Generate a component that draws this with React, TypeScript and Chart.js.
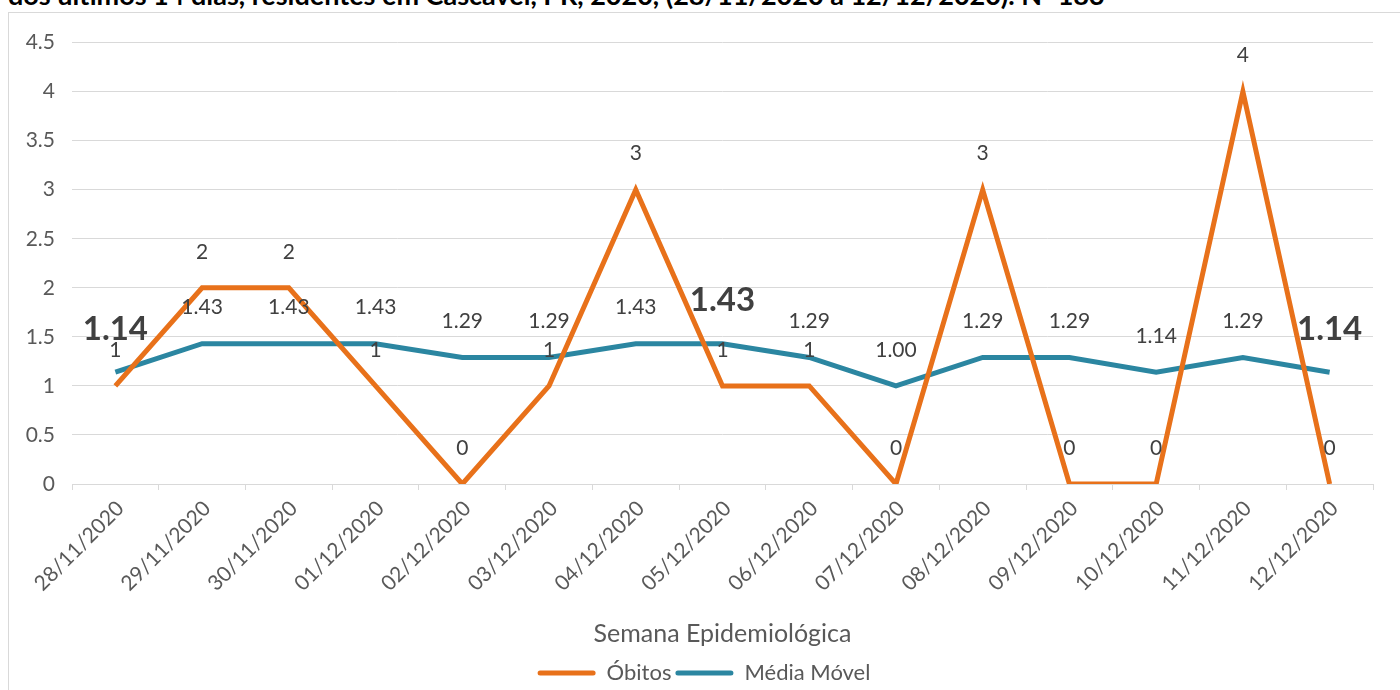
import React, { useEffect, useRef } from 'react';
import { Chart, registerables } from 'chart.js';

Chart.register(...registerables);

const FONT = 'Lato, "Open Sans", sans-serif';

const titulo =
  'dos últimos 14 dias, residentes em Cascavel, PR, 2020, (28/11/2020 a 12/12/2020). N=183';

const categorias = [
  '28/11/2020', '29/11/2020', '30/11/2020', '01/12/2020', '02/12/2020',
  '03/12/2020', '04/12/2020', '05/12/2020', '06/12/2020', '07/12/2020',
  '08/12/2020', '09/12/2020', '10/12/2020', '11/12/2020', '12/12/2020',
];

const obitos = [1, 2, 2, 1, 0, 1, 3, 1, 1, 0, 3, 0, 0, 4, 0];

const mediaMovel = [1.14, 1.43, 1.43, 1.43, 1.29, 1.29, 1.43, 1.43, 1.29, 1.0, 1.29, 1.29, 1.14, 1.29, 1.14];

// indices of the moving-average labels shown large and bold
const destaqueMedia = [0, 7, 14];

const yMin = 0;
const yMax = 4.5;
const yStep = 0.5;

const ORANGE = '#E8711A';
const TEAL = '#2B86A1';
const GRID = '#d9d9d9';
const TEXT = '#595959';
const LABEL = '#404040';

const dataLabelPlugin = {
  id: 'dataLabels',
  afterDatasetsDraw(chart: any) {
    const ctx = chart.ctx;
    chart.data.datasets.forEach((ds: any, di: number) => {
      const meta = chart.getDatasetMeta(di);
      meta.data.forEach((el: any, i: number) => {
        const v = ds.data[i] as number;
        const isMedia = di === 1;
        const bold = isMedia && destaqueMedia.includes(i);
        const text = isMedia ? v.toFixed(2) : String(v);
        ctx.save();
        ctx.font = bold ? `bold 33px ${FONT}` : `21px ${FONT}`;
        ctx.fillStyle = LABEL;
        ctx.textAlign = 'center';
        ctx.textBaseline = 'middle';
        ctx.fillText(text, el.x, el.y - (bold ? 43 : 36));
        ctx.restore();
      });
    });
  },
};

// nudges the legend to the right, as in the reference
const legendShiftPlugin = {
  id: 'legendShift',
  afterLayout(chart: any) {
    const lg = chart.legend;
    if (lg) {
      lg.left += 13;
      lg.right += 13;
    }
  },
};

export default function App() {
  const ref = useRef<HTMLCanvasElement>(null);

  useEffect(() => {
    const chart = new Chart(ref.current as HTMLCanvasElement, {
      type: 'line',
      data: {
        labels: categorias,
        datasets: [
          {
            label: 'Óbitos',
            data: obitos,
            borderColor: ORANGE,
            backgroundColor: ORANGE,
            borderWidth: 5,
            pointRadius: 0,
            tension: 0,
          },
          {
            label: 'Média Móvel',
            data: mediaMovel,
            borderColor: TEAL,
            backgroundColor: TEAL,
            borderWidth: 5,
            pointRadius: 0,
            tension: 0,
          },
        ],
      },
      options: {
        animation: false,
        responsive: false,
        events: [],
        layout: { padding: { left: 0, right: 27, top: 29, bottom: 0 } },
        plugins: {
          legend: {
            position: 'bottom',
            labels: {
              boxWidth: 58,
              boxHeight: 5,
              useBorderRadius: true,
              borderRadius: 2.5,
              padding: 4,
              color: TEXT,
              font: { family: FONT, size: 22 },
              generateLabels: (c: any) =>
                c.data.datasets.map((ds: any, i: number) => ({
                  text: ds.label,
                  fillStyle: ds.borderColor,
                  strokeStyle: ds.borderColor,
                  lineWidth: 0,
                  fontColor: TEXT,
                  datasetIndex: i,
                  hidden: false,
                  borderRadius: 2.5,
                })),
            },
          },
          tooltip: { enabled: false },
        },
        scales: {
          x: {
            offset: true,
            grid: {
              display: true,
              drawOnChartArea: false,
              offset: true,
              tickLength: 6,
              color: GRID,
            },
            border: { display: true, color: GRID },
            ticks: {
              minRotation: 45,
              maxRotation: 45,
              autoSkip: false,
              padding: 6,
              labelOffset: 5,
              color: TEXT,
              font: { family: FONT, size: 21 },
            },
            title: {
              display: true,
              text: 'Semana Epidemiológica',
              color: TEXT,
              font: { family: FONT, size: 25 },
              padding: { top: 0, bottom: 9 },
            },
            afterFit: (s: any) => {
              s.height = 174;
            },
          },
          y: {
            min: yMin,
            max: yMax,
            ticks: {
              stepSize: yStep,
              padding: 17,
              color: TEXT,
              font: { family: FONT, size: 21 },
              callback: (v: any) => String(Number(v)),
            },
            grid: { color: GRID, drawTicks: false },
            border: { display: false },
            afterFit: (s: any) => {
              s.width = 63;
            },
          },
        },
      },
      plugins: [dataLabelPlugin, legendShiftPlugin],
    } as any);
    return () => chart.destroy();
  }, []);

  return (
    <div
      style={{
        position: 'fixed',
        left: 0,
        top: 0,
        width: 1400,
        height: 690,
        overflow: 'hidden',
        background: '#fff',
      }}
    >
      <div
        style={{
          position: 'absolute',
          left: 8,
          top: -19,
          whiteSpace: 'nowrap',
          fontFamily: FONT,
          fontWeight: 'bold',
          fontSize: 27,
          lineHeight: '27px',
          color: '#000',
        }}
      >
        {titulo}
      </div>
      <div
        style={{
          position: 'absolute',
          left: 8,
          top: 12,
          width: 1400,
          height: 700,
          border: `1px solid ${GRID}`,
          boxSizing: 'border-box',
          background: '#fff',
        }}
      >
        <canvas ref={ref} width={1391} height={681} style={{ display: 'block', width: 1391, height: 681 }} />
      </div>
    </div>
  );
}
